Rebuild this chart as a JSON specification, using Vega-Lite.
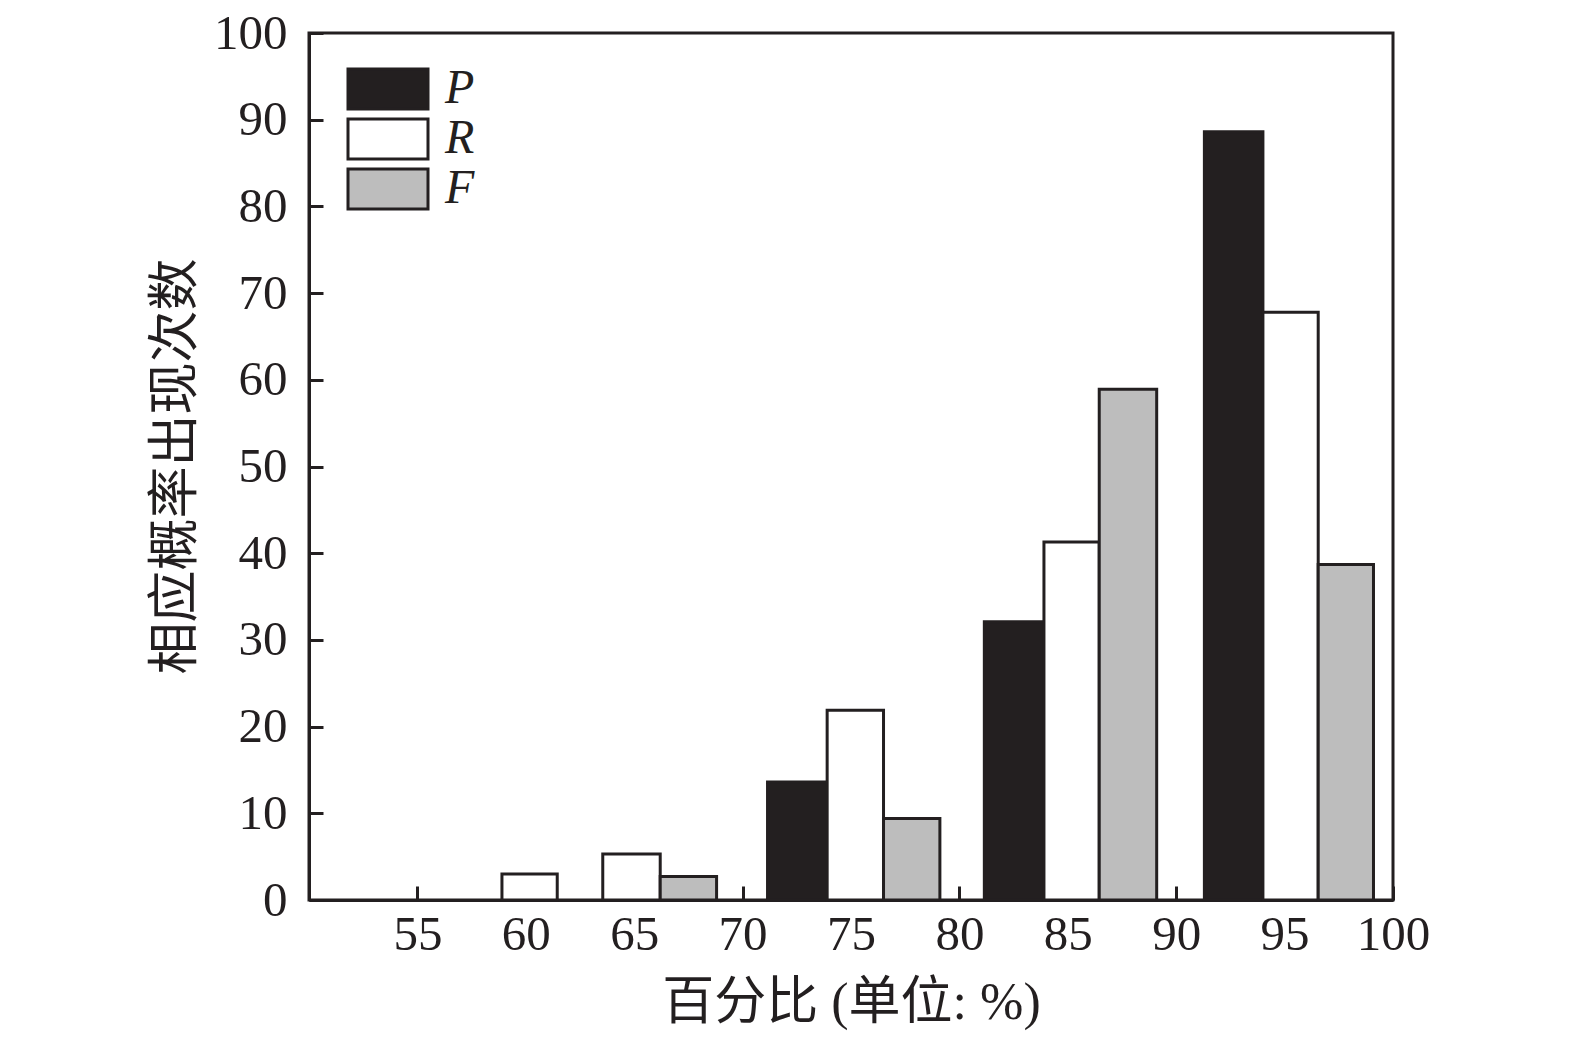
{
  "$schema": "https://vega.github.io/schema/vega-lite/v6.json",
  "width": 1084,
  "height": 867,
  "autosize": {"type": "none"},
  "padding": {"left": 309, "top": 33, "right": 182, "bottom": 140},
  "background": "white",
  "config": {
    "view": {"stroke": "#231f20", "strokeWidth": 3},
    "axis": {
      "domainColor": "#231f20",
      "domainWidth": 3,
      "tickColor": "#231f20",
      "tickWidth": 3,
      "tickSize": -14,
      "grid": false,
      "labelFlush": false,
      "labelOverlap": false,
      "labelFont": "Liberation Serif",
      "labelFontSize": 49,
      "labelColor": "#231f20",
      "titleFont": "Liberation Serif, Noto Sans CJK SC",
      "titleFontSize": 52,
      "titleFontWeight": "normal",
      "titleColor": "#231f20"
    },
    "legend": {
      "labelFont": "Liberation Serif",
      "labelFontSize": 48,
      "labelFontStyle": "italic",
      "labelColor": "#231f20"
    }
  },
  "data": {
    "values": [
      {"percent": 60, "series": "R", "lo": 58.9, "hi": 61.45, "count": 3.0},
      {"percent": 65, "series": "R", "lo": 63.55, "hi": 66.2, "count": 5.3},
      {"percent": 65, "series": "F", "lo": 66.2, "hi": 68.8, "count": 2.7},
      {"percent": 75, "series": "P", "lo": 71.15, "hi": 73.9, "count": 13.6},
      {"percent": 75, "series": "R", "lo": 73.9, "hi": 76.5, "count": 21.9},
      {"percent": 75, "series": "F", "lo": 76.5, "hi": 79.1, "count": 9.4},
      {"percent": 85, "series": "P", "lo": 81.15, "hi": 83.9, "count": 32.1},
      {"percent": 85, "series": "R", "lo": 83.9, "hi": 86.45, "count": 41.3},
      {"percent": 85, "series": "F", "lo": 86.45, "hi": 89.1, "count": 58.9},
      {"percent": 95, "series": "P", "lo": 91.3, "hi": 94.0, "count": 88.6},
      {"percent": 95, "series": "R", "lo": 94.0, "hi": 96.55, "count": 67.8},
      {"percent": 95, "series": "F", "lo": 96.55, "hi": 99.1, "count": 38.7}
    ]
  },
  "mark": {"type": "bar", "stroke": "#231f20", "strokeWidth": 3},
  "encoding": {
    "x": {
      "field": "lo",
      "type": "quantitative",
      "scale": {"domain": [50, 100], "nice": false, "zero": false},
      "axis": {
        "values": [55, 60, 65, 70, 75, 80, 85, 90, 95, 100],
        "title": "百分比 (单位: %)",
        "labelPadding": 24,
        "titleY": 102,
        "titleBaseline": "middle"
      }
    },
    "x2": {"field": "hi"},
    "y": {
      "field": "count",
      "type": "quantitative",
      "scale": {"domain": [0, 100], "nice": false},
      "axis": {
        "values": [0, 10, 20, 30, 40, 50, 60, 70, 80, 90, 100],
        "title": "相应概率出现次数",
        "labelPadding": 36,
        "titleX": -134,
        "titleY": 433,
        "titleBaseline": "middle",
        "titleAlign": "center"
      }
    },
    "y2": {"datum": 0},
    "fill": {
      "field": "series",
      "type": "nominal",
      "scale": {"domain": ["P", "R", "F"], "range": ["#231f20", "#ffffff", "#bdbdbd"]},
      "legend": {
        "title": null,
        "orient": "none",
        "legendX": 55,
        "legendY": 32,
        "padding": 0,
        "symbolType": "M-2,-1H2V1H-2Z",
        "symbolSize": 1600,
        "symbolStrokeColor": "#231f20",
        "symbolStrokeWidth": 3,
        "symbolOpacity": 1,
        "labelOffset": 33,
        "rowPadding": -2
      }
    }
  }
}
